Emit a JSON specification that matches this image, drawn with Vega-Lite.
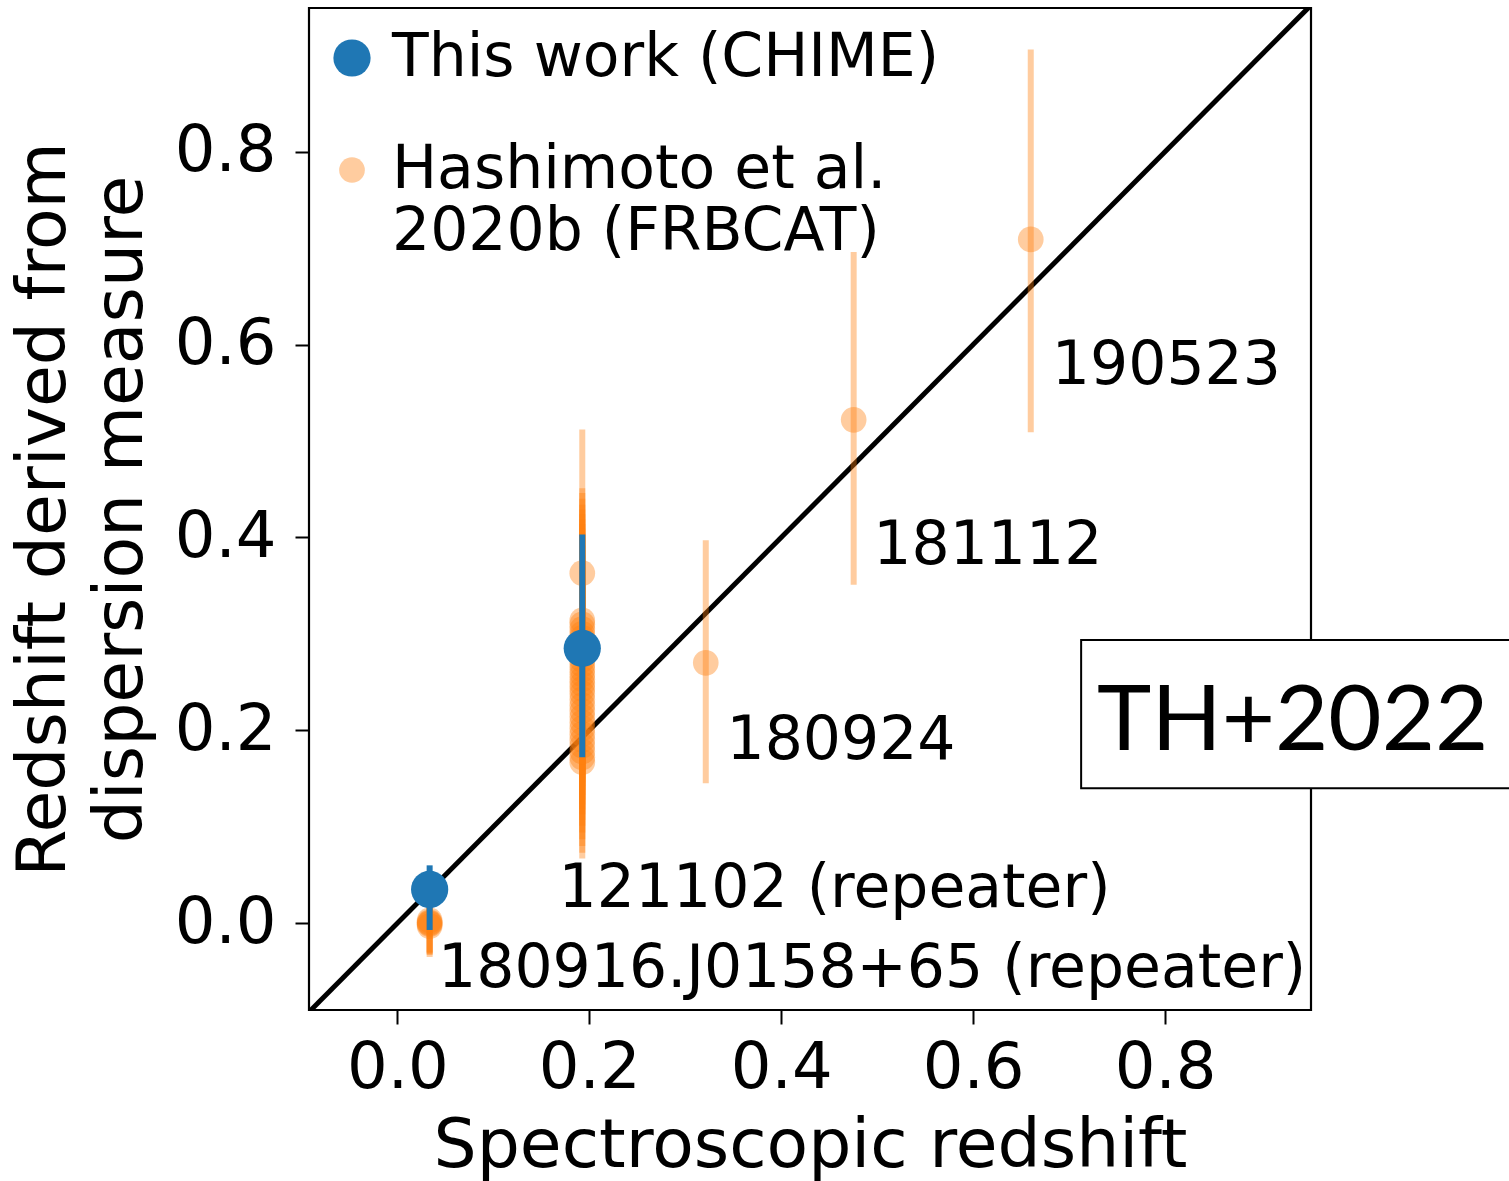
{
  "$schema": "https://vega.github.io/schema/vega-lite/v6.json",
  "width": 1002,
  "height": 1002,
  "autosize": {"type": "none"},
  "padding": {"left": 309, "top": 8, "right": 198, "bottom": 171},
  "background": "white",
  "config": {
    "view": {"stroke": "black", "strokeWidth": 2.2},
    "font": "DejaVu Sans",
    "axis": {
      "domain": false, "grid": false,
      "labelFont": "DejaVu Sans", "titleFont": "DejaVu Sans",
      "labelFontSize": 64, "titleFontSize": 68, "titleFontWeight": "normal",
      "labelColor": "black", "titleColor": "black",
      "tickColor": "black", "tickWidth": 2, "tickSize": 14
    }
  },
  "datasets": {
    "points": [
      {"source": "Hashimoto et al. 2020b (FRBCAT)", "frb": "180916", "zspec": 0.0337, "zdm": -0.003, "lo": -0.035, "hi": 0.035},
      {"source": "Hashimoto et al. 2020b (FRBCAT)", "frb": "180916", "zspec": 0.0337, "zdm": -0.001, "lo": -0.033, "hi": 0.037},
      {"source": "Hashimoto et al. 2020b (FRBCAT)", "frb": "180916", "zspec": 0.0337, "zdm": 0.0, "lo": -0.032, "hi": 0.038},
      {"source": "Hashimoto et al. 2020b (FRBCAT)", "frb": "180916", "zspec": 0.0337, "zdm": 0.001, "lo": -0.031, "hi": 0.039},
      {"source": "Hashimoto et al. 2020b (FRBCAT)", "frb": "180916", "zspec": 0.0337, "zdm": 0.003, "lo": -0.03, "hi": 0.04},
      {"source": "Hashimoto et al. 2020b (FRBCAT)", "frb": "121102", "zspec": 0.19273, "zdm": 0.363, "lo": 0.24, "hi": 0.512},
      {"source": "Hashimoto et al. 2020b (FRBCAT)", "frb": "121102", "zspec": 0.19273, "zdm": 0.314, "lo": 0.2, "hi": 0.451},
      {"source": "Hashimoto et al. 2020b (FRBCAT)", "frb": "121102", "zspec": 0.19273, "zdm": 0.31, "lo": 0.197, "hi": 0.446},
      {"source": "Hashimoto et al. 2020b (FRBCAT)", "frb": "121102", "zspec": 0.19273, "zdm": 0.305, "lo": 0.193, "hi": 0.44},
      {"source": "Hashimoto et al. 2020b (FRBCAT)", "frb": "121102", "zspec": 0.19273, "zdm": 0.3, "lo": 0.19, "hi": 0.434},
      {"source": "Hashimoto et al. 2020b (FRBCAT)", "frb": "121102", "zspec": 0.19273, "zdm": 0.296, "lo": 0.186, "hi": 0.429},
      {"source": "Hashimoto et al. 2020b (FRBCAT)", "frb": "121102", "zspec": 0.19273, "zdm": 0.291, "lo": 0.182, "hi": 0.424},
      {"source": "Hashimoto et al. 2020b (FRBCAT)", "frb": "121102", "zspec": 0.19273, "zdm": 0.287, "lo": 0.179, "hi": 0.419},
      {"source": "Hashimoto et al. 2020b (FRBCAT)", "frb": "121102", "zspec": 0.19273, "zdm": 0.282, "lo": 0.175, "hi": 0.414},
      {"source": "Hashimoto et al. 2020b (FRBCAT)", "frb": "121102", "zspec": 0.19273, "zdm": 0.278, "lo": 0.171, "hi": 0.409},
      {"source": "Hashimoto et al. 2020b (FRBCAT)", "frb": "121102", "zspec": 0.19273, "zdm": 0.273, "lo": 0.167, "hi": 0.404},
      {"source": "Hashimoto et al. 2020b (FRBCAT)", "frb": "121102", "zspec": 0.19273, "zdm": 0.268, "lo": 0.163, "hi": 0.398},
      {"source": "Hashimoto et al. 2020b (FRBCAT)", "frb": "121102", "zspec": 0.19273, "zdm": 0.263, "lo": 0.158, "hi": 0.392},
      {"source": "Hashimoto et al. 2020b (FRBCAT)", "frb": "121102", "zspec": 0.19273, "zdm": 0.258, "lo": 0.154, "hi": 0.387},
      {"source": "Hashimoto et al. 2020b (FRBCAT)", "frb": "121102", "zspec": 0.19273, "zdm": 0.253, "lo": 0.15, "hi": 0.381},
      {"source": "Hashimoto et al. 2020b (FRBCAT)", "frb": "121102", "zspec": 0.19273, "zdm": 0.248, "lo": 0.146, "hi": 0.376},
      {"source": "Hashimoto et al. 2020b (FRBCAT)", "frb": "121102", "zspec": 0.19273, "zdm": 0.243, "lo": 0.142, "hi": 0.37},
      {"source": "Hashimoto et al. 2020b (FRBCAT)", "frb": "121102", "zspec": 0.19273, "zdm": 0.238, "lo": 0.138, "hi": 0.364},
      {"source": "Hashimoto et al. 2020b (FRBCAT)", "frb": "121102", "zspec": 0.19273, "zdm": 0.232, "lo": 0.133, "hi": 0.357},
      {"source": "Hashimoto et al. 2020b (FRBCAT)", "frb": "121102", "zspec": 0.19273, "zdm": 0.226, "lo": 0.128, "hi": 0.351},
      {"source": "Hashimoto et al. 2020b (FRBCAT)", "frb": "121102", "zspec": 0.19273, "zdm": 0.22, "lo": 0.123, "hi": 0.345},
      {"source": "Hashimoto et al. 2020b (FRBCAT)", "frb": "121102", "zspec": 0.19273, "zdm": 0.214, "lo": 0.118, "hi": 0.338},
      {"source": "Hashimoto et al. 2020b (FRBCAT)", "frb": "121102", "zspec": 0.19273, "zdm": 0.208, "lo": 0.113, "hi": 0.332},
      {"source": "Hashimoto et al. 2020b (FRBCAT)", "frb": "121102", "zspec": 0.19273, "zdm": 0.202, "lo": 0.107, "hi": 0.326},
      {"source": "Hashimoto et al. 2020b (FRBCAT)", "frb": "121102", "zspec": 0.19273, "zdm": 0.196, "lo": 0.101, "hi": 0.319},
      {"source": "Hashimoto et al. 2020b (FRBCAT)", "frb": "121102", "zspec": 0.19273, "zdm": 0.19, "lo": 0.094, "hi": 0.312},
      {"source": "Hashimoto et al. 2020b (FRBCAT)", "frb": "121102", "zspec": 0.19273, "zdm": 0.184, "lo": 0.087, "hi": 0.306},
      {"source": "Hashimoto et al. 2020b (FRBCAT)", "frb": "121102", "zspec": 0.19273, "zdm": 0.178, "lo": 0.08, "hi": 0.3},
      {"source": "Hashimoto et al. 2020b (FRBCAT)", "frb": "121102", "zspec": 0.19273, "zdm": 0.172, "lo": 0.073, "hi": 0.294},
      {"source": "Hashimoto et al. 2020b (FRBCAT)", "frb": "121102", "zspec": 0.19273, "zdm": 0.167, "lo": 0.067, "hi": 0.288},
      {"source": "Hashimoto et al. 2020b (FRBCAT)", "frb": "180924", "zspec": 0.3214, "zdm": 0.27, "lo": 0.145, "hi": 0.397},
      {"source": "Hashimoto et al. 2020b (FRBCAT)", "frb": "181112", "zspec": 0.4755, "zdm": 0.522, "lo": 0.351, "hi": 0.696},
      {"source": "Hashimoto et al. 2020b (FRBCAT)", "frb": "190523", "zspec": 0.66, "zdm": 0.709, "lo": 0.509, "hi": 0.906},
      {"source": "This work (CHIME)", "frb": "180916", "zspec": 0.0337, "zdm": 0.035, "lo": -0.007, "hi": 0.06},
      {"source": "This work (CHIME)", "frb": "121102", "zspec": 0.19273, "zdm": 0.285, "lo": 0.172, "hi": 0.403}
    ],
    "diag": [{"d": -0.3}, {"d": 1.3}],
    "labels": [
      {"lx": 0.682, "ly": 0.559, "label": "190523"},
      {"lx": 0.496, "ly": 0.372, "label": "181112"},
      {"lx": 0.343, "ly": 0.17, "label": "180924"},
      {"lx": 0.168, "ly": 0.0165, "label": "121102 (repeater)"},
      {"lx": 0.0425, "ly": -0.0665, "label": "180916.J0158+65 (repeater)"}
    ],
    "box": [{"bx0": 0.7125, "bx1": 1.25, "by0": 0.14, "by1": 0.2936, "tx": 0.933, "ty": 0.1795, "text": "TH+2022"}]
  },
  "encoding": {
    "x": {"type": "quantitative", "scale": {"domain": [-0.092, 0.952], "nice": false, "zero": false},
          "axis": {"values": [0, 0.2, 0.4, 0.6, 0.8], "format": ".1f", "title": "Spectroscopic redshift", "labelPadding": 12, "titlePadding": 12}},
    "y": {"type": "quantitative", "scale": {"domain": [-0.09, 0.949], "nice": false, "zero": false},
          "axis": {"values": [0, 0.2, 0.4, 0.6, 0.8], "format": ".1f", "title": ["Redshift derived from", "dispersion measure"], "titleLineHeight": 77, "labelPadding": 19, "titlePadding": 19}}
  },
  "layer": [
    {
      "data": {"name": "diag"},
      "mark": {"type": "line", "color": "black", "strokeWidth": 5, "clip": true},
      "encoding": {"x": {"field": "d", "type": "quantitative"}, "y": {"field": "d", "type": "quantitative"}}
    },
    {
      "data": {"name": "points"},
      "transform": [{"filter": "datum.source != 'This work (CHIME)'"}],
      "mark": {"type": "rule", "color": "#ff7f0e", "opacity": 0.4, "strokeWidth": 6},
      "encoding": {"x": {"field": "zspec", "type": "quantitative"}, "y": {"field": "lo", "type": "quantitative"}, "y2": {"field": "hi"}}
    },
    {
      "data": {"name": "points"},
      "transform": [{"filter": "datum.source != 'This work (CHIME)'"}],
      "mark": {"type": "point", "filled": true, "shape": "circle"},
      "encoding": {
        "x": {"field": "zspec", "type": "quantitative"},
        "y": {"field": "zdm", "type": "quantitative"},
        "color": {"field": "source", "type": "nominal",
          "scale": {"domain": ["This work (CHIME)", "Hashimoto et al. 2020b (FRBCAT)"], "range": ["#1f77b4", "#ff7f0e"]},
          "legend": {"orient": "none", "legendX": 13, "legendY": 20, "title": null, "padding": 0,
            "labelFont": "DejaVu Sans", "labelFontSize": 60, "labelColor": "black", "labelLimit": 0,
            "labelOffset": 10, "rowPadding": 52, "labelLineHeight": 74, "symbolType": "circle",
            "labelExpr": "datum.label == 'Hashimoto et al. 2020b (FRBCAT)' ? ['Hashimoto et al.', '2020b (FRBCAT)'] : datum.label"}},
        "size": {"field": "source", "type": "nominal",
          "scale": {"domain": ["This work (CHIME)", "Hashimoto et al. 2020b (FRBCAT)"], "range": [1385, 660], "padding": 0}},
        "opacity": {"field": "source", "type": "nominal",
          "scale": {"domain": ["This work (CHIME)", "Hashimoto et al. 2020b (FRBCAT)"], "range": [1, 0.4], "padding": 0}}
      }
    },
    {
      "data": {"name": "points"},
      "transform": [{"filter": "datum.source == 'This work (CHIME)'"}],
      "mark": {"type": "rule", "color": "#1f77b4", "strokeWidth": 6},
      "encoding": {"x": {"field": "zspec", "type": "quantitative"}, "y": {"field": "lo", "type": "quantitative"}, "y2": {"field": "hi"}}
    },
    {
      "data": {"name": "points"},
      "transform": [{"filter": "datum.source == 'This work (CHIME)'"}],
      "mark": {"type": "point", "filled": true, "shape": "circle", "color": "#1f77b4", "size": 1385, "opacity": 1},
      "encoding": {
        "x": {"field": "zspec", "type": "quantitative"},
        "y": {"field": "zdm", "type": "quantitative"}
      }
    },
    {
      "data": {"name": "labels"},
      "mark": {"type": "text", "align": "left", "baseline": "alphabetic", "font": "DejaVu Sans", "fontSize": 60, "color": "black"},
      "encoding": {"x": {"field": "lx", "type": "quantitative"}, "y": {"field": "ly", "type": "quantitative"}, "text": {"field": "label"}}
    },
    {
      "data": {"name": "box"},
      "mark": {"type": "rect", "fill": "white", "stroke": "black", "strokeWidth": 2, "clip": false},
      "encoding": {"x": {"field": "bx0", "type": "quantitative"}, "x2": {"field": "bx1"}, "y": {"field": "by0", "type": "quantitative"}, "y2": {"field": "by1"}}
    },
    {
      "data": {"name": "box"},
      "mark": {"type": "text", "align": "center", "baseline": "alphabetic", "font": "Lato", "fontSize": 92, "color": "black"},
      "encoding": {"x": {"field": "tx", "type": "quantitative"}, "y": {"field": "ty", "type": "quantitative"}, "text": {"field": "text"}}
    }
  ]
}
